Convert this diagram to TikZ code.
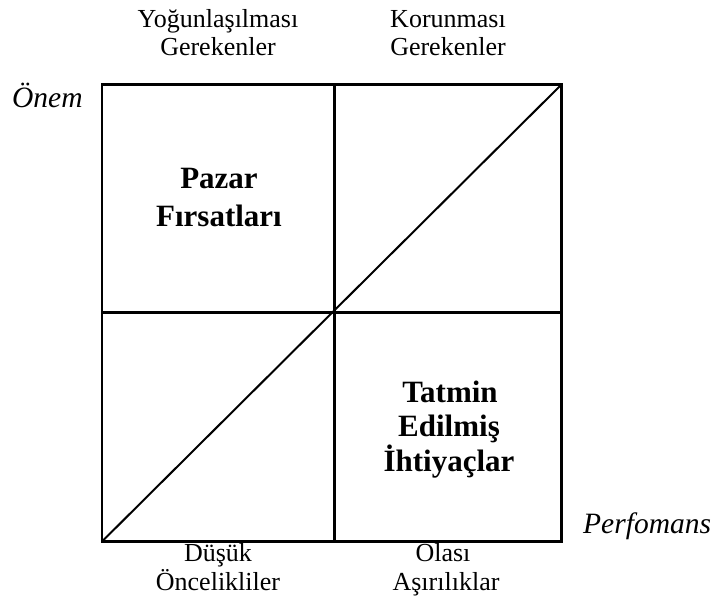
\documentclass[tikz,border=0pt]{standalone}
\usepackage{fontspec}
\setmainfont{Liberation Serif}
\begin{document}
\begin{tikzpicture}[x=1pt,y=-1pt,
  lbl/.style={inner sep=0pt,anchor=base,font=\fontsize{26}{28}\selectfont},
  axis/.style={inner sep=0pt,anchor=base west,font=\fontsize{29.5}{33}\selectfont\itshape},
  big/.style={inner sep=0pt,anchor=base,font=\fontsize{31}{35}\selectfont\bfseries},
  frame/.style={line width=2.6pt},
  diag/.style={line width=2pt}]
\useasboundingbox (0,0) rectangle (714,608);
% corners and midpoints
\coordinate (tl) at (102,84.5);
\coordinate (tr) at (561.5,84.5);
\coordinate (bl) at (102,541.5);
\coordinate (br) at (561.5,541.5);
\coordinate (mt) at (334.5,84.5);
\coordinate (mb) at (334.5,541.5);
\coordinate (ml) at (102,312.5);
\coordinate (mr) at (561.5,312.5);
\draw[diag] (bl) -- (tr);
\draw[frame] (mt) -- (mb);
\draw[frame] (ml) -- (mr);
\draw[frame] (tl) rectangle (br);
% top labels
\node[lbl] (t1a) at (218,27) {Yoğunlaşılması};
\node[lbl] (t1b) at (218,55) {Gerekenler};
\node[lbl] (t2a) at (448,27) {Korunması};
\node[lbl] (t2b) at (448,55) {Gerekenler};
% bottom labels
\node[lbl] (b1a) at (218,561) {Düşük};
\node[lbl] (b1b) at (218,590) {Öncelikliler};
\node[lbl] (b2a) at (443,561) {Olası};
\node[lbl] (b2b) at (446,590) {Aşırılıklar};
% axis labels
\node[axis] (onem) at (12,107) {Önem};
\node[axis] (perf) at (583,533) {Perfomans};
% quadrant labels
\node[big] (p1) at (219,188) {Pazar};
\node[big] (p2) at (219,226) {Fırsatları};
\node[big] (q1) at (450,402) {Tatmin};
\node[big] (q2) at (449,436) {Edilmiş};
\node[big] (q3) at (449,471) {İhtiyaçlar};
\end{tikzpicture}
\end{document}
